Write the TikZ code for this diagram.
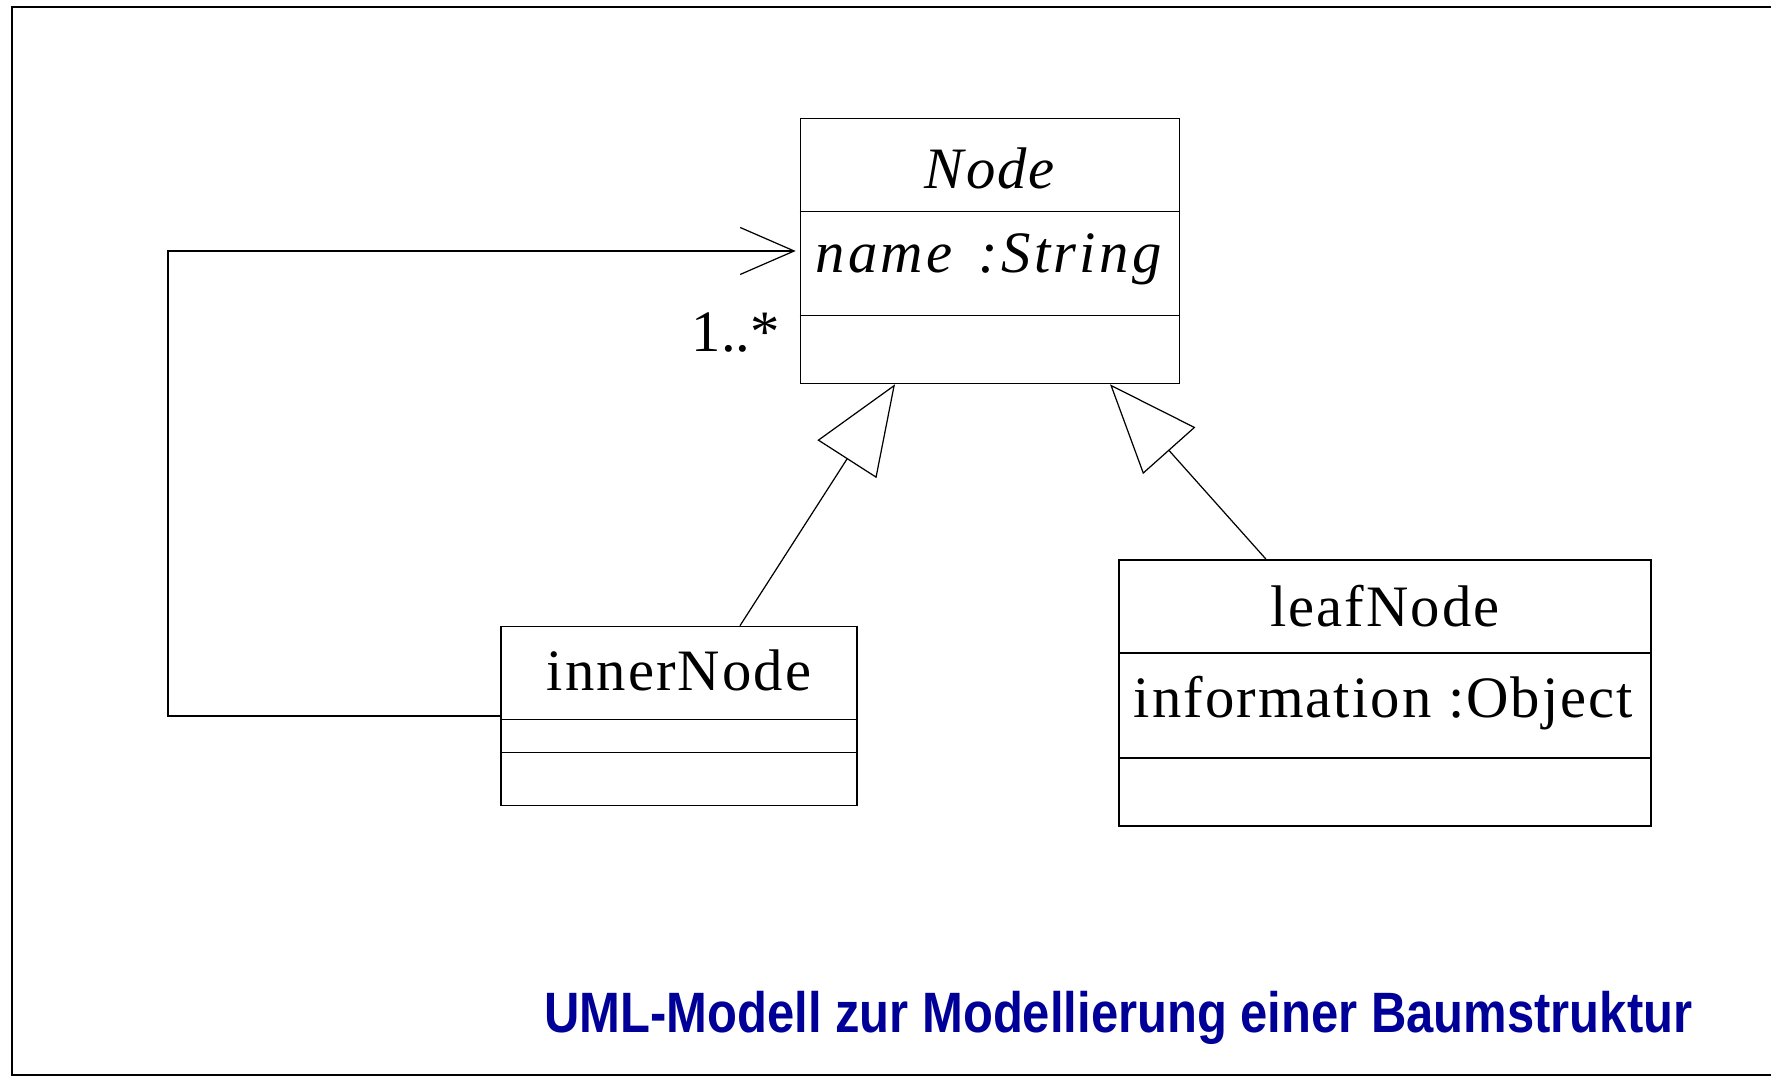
\documentclass[tikz,border=0pt]{standalone}
\usepackage{fontspec}
\setmainfont{Liberation Serif}[LetterSpace=3.5]
\newfontfamily\captionfont{Liberation Sans}[FakeStretch=0.86]
\usepackage{tikz}
\usetikzlibrary{arrows.meta, calc}
\definecolor{captionblue}{RGB}{0,0,153}
\tikzset{
    classbox/.style={draw, line width=0.45pt, rectangle, inner sep=0pt},
    classtext/.style={inner sep=0pt, anchor=base, font=\fontsize{16.7}{20}\selectfont},
    attrtext/.style={inner sep=0pt, anchor=base west, font=\fontsize{16.7}{20}\selectfont},
    divider/.style={line width=0.4pt},
    assoc/.style={-{Straight Barb[length=5.4mm,width=4.7mm]}, line width=0.35pt, shorten >=0.4mm},
    inherit/.style={-{Triangle[open,length=8.9mm,width=7mm]}, line width=0.35pt},
    frameline/.style={line width=0.7pt}
}

\begin{document}
\begin{tikzpicture}
    \useasboundingbox (0,0) rectangle (17.71,10.77);
    \draw[frameline] (17.71,10.70) -- (0.12,10.70) -- (0.12,0.02) -- (17.71,0.02);

    % Classes
    \node[classbox, minimum width=3.79cm, minimum height=2.65cm] (Node) at (9.90,8.26) {};
    \node[classbox, minimum width=3.56cm, minimum height=1.79cm] (inner) at (6.79,3.61) {};
    \node[classbox, minimum width=5.32cm, minimum height=2.66cm] (leaf) at (13.85,3.84) {};

    % Compartments
    \draw[divider] ($(Node.north west)+(0,-0.94)$) -- ($(Node.north east)+(0,-0.94)$);
    \draw[divider] ($(Node.north west)+(0,-1.98)$) -- ($(Node.north east)+(0,-1.98)$);
    \draw[divider] ($(inner.north west)+(0,-0.94)$) -- ($(inner.north east)+(0,-0.94)$);
    \draw[divider] ($(inner.north west)+(0,-1.27)$) -- ($(inner.north east)+(0,-1.27)$);
    \draw[divider] ($(leaf.north west)+(0,-0.94)$) -- ($(leaf.north east)+(0,-0.94)$);
    \draw[divider] ($(leaf.north west)+(0,-1.99)$) -- ($(leaf.north east)+(0,-1.99)$);

    % Names and attributes
    \node[classtext, font=\fontsize{16.7}{20}\selectfont\itshape] (NodeName) at (9.90,8.88) {Node};
    \node[attrtext, font=\fontsize{16.7}{20}\selectfont\itshape\addfontfeature{LetterSpace=5.5}] (NodeAttr) at (8.15,8.04) {name\hspace{0.45em}:String};
    \node[classtext] (innerName) at (6.79,3.86) {innerNode};
    \node[classtext] (leafName) at (13.85,4.50) {leafNode};
    \node[attrtext] (leafAttr) at (11.33,3.59) {information :Object};

    % Self association
    \coordinate (bend) at (1.68,6.0);
    \draw[assoc] (inner.west) -| (bend) |- (Node.west);
    \node[attrtext, font=\fontsize{16.7}{20}\selectfont\addfontfeature{LetterSpace=0}] (mult) at (6.91,7.25) {1..*};

    % Generalizations
    \draw[inherit] ($(inner.north)+(0.61,0)$) -- ($(Node.south)+(-0.95,0)$);
    \draw[inherit] ($(leaf.north)+(-1.19,0)$) -- ($(Node.south)+(1.20,0)$);

    \node[inner sep=0pt, anchor=base east, text=captionblue, font=\captionfont\fontsize{16.2}{19}\selectfont\bfseries] (caption) at (16.93,0.44) {UML-Modell zur Modellierung einer Baumstruktur};
\end{tikzpicture}
\end{document}
